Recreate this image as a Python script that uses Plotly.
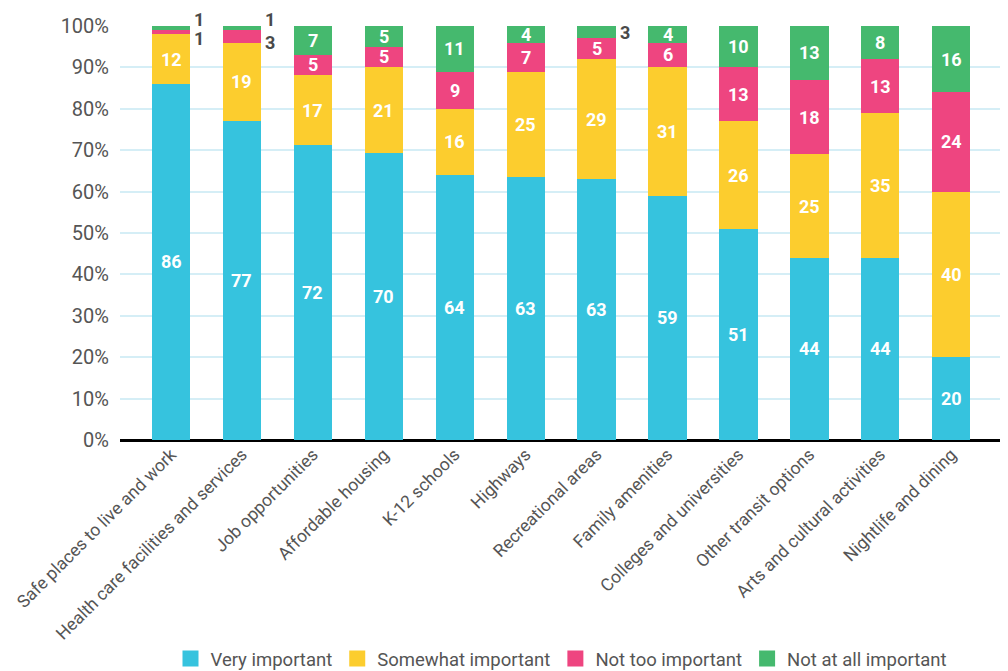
import plotly.graph_objects as go

categories = ["Safe places to live and work", "Health care facilities and services",
              "Job opportunities", "Affordable housing", "K-12 schools", "Highways",
              "Recreational areas", "Family amenities", "Colleges and universities",
              "Other transit options", "Arts and cultural activities", "Nightlife and dining"]
very = [86, 77, 72, 70, 64, 63, 63, 59, 51, 44, 44, 20]
somewhat = [12, 19, 17, 21, 16, 25, 29, 31, 26, 25, 35, 40]
not_too = [1, 3, 5, 5, 9, 7, 5, 6, 13, 18, 13, 24]
not_at_all = [1, 1, 7, 5, 11, 4, 3, 4, 10, 13, 8, 16]

series = [("Very important", very, "#36c3de"),
          ("Somewhat important", somewhat, "#fccd2e"),
          ("Not too important", not_too, "#ee4580"),
          ("Not at all important", not_at_all, "#45b96e")]

FONT = "Roboto"
fig = go.Figure()
for name, vals, col in series:
    fig.add_trace(go.Bar(x=list(range(len(categories))), y=vals, name=name, showlegend=False,
                         marker=dict(color=col, line=dict(width=0)), width=0.54))
for name, vals, col in series:
    fig.add_trace(go.Scatter(x=[None], y=[None], mode="markers", name=name,
                             marker=dict(symbol="square", size=22, color=col)))

annotations = []
for i in range(len(categories)):
    tot = sum(s[1][i] for s in series)
    cum = 0
    small = []
    for name, vals, col in series:
        v = vals[i]
        lo = cum / tot * 100
        cum += v
        hi = cum / tot * 100
        mid = (lo + hi) / 2
        if v > 3:
            annotations.append(dict(x=i, y=mid, text=f"<b>{v}</b>", showarrow=False,
                                    font=dict(family=FONT, size=18, color="white")))
        else:
            small.append((v, mid))
    n = len(small)
    for k, (v, mid) in enumerate(small):
        yshift = 0
        if n == 2:
            yshift = -6 if k == 0 else 9
        annotations.append(dict(x=i + 0.27, y=mid, xanchor="left", text=f"<b>{v}</b>",
                                showarrow=False, yshift=yshift, xshift=2,
                                font=dict(family=FONT, size=18, color="#4a4a4a")))

fig.update_layout(
    barmode="stack", barnorm="percent",
    width=1000, height=663,
    margin=dict(l=112, r=5, t=18, b=231, autoexpand=False),
    plot_bgcolor="white", paper_bgcolor="white",
    font=dict(family=FONT, color="#555555"),
    annotations=annotations,
    legend=dict(orientation="h", x=0.5, xanchor="center", y=-0.529, yanchor="middle",
                font=dict(family=FONT, size=18.5, color="#555555"), itemwidth=30,
                traceorder="normal"),
    xaxis=dict(tickmode="array", tickvals=list(range(len(categories))), ticktext=categories,
               tickangle=-45, range=[-0.72, 11.73], showgrid=False, zeroline=False,
               automargin=False, ticklabeloverflow="allow",
               tickfont=dict(family=FONT, size=17.5, color="#555555"), showline=False),
    yaxis=dict(range=[0, 100], tickvals=list(range(0, 101, 10)),
               ticktext=[f"{v}%" for v in range(0, 101, 10)], automargin=False,
               ticklabelstandoff=10,
               showgrid=True, gridcolor="#d5eef6", gridwidth=2,
               zeroline=True, zerolinecolor="black", zerolinewidth=3,
               tickfont=dict(family=FONT, size=20, color="#555555"), ticks="", ticklen=0),
)
fig.write_html("out.html")
